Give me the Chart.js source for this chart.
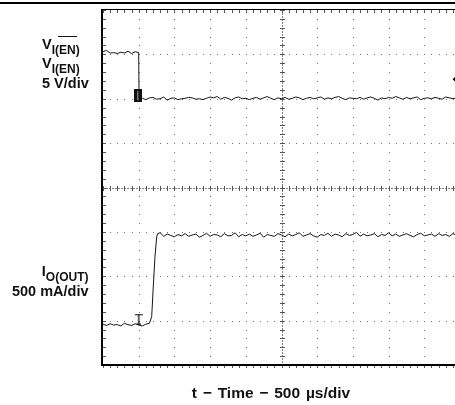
<!DOCTYPE html>
<html><head><meta charset="utf-8">
<script src="https://cdn.jsdelivr.net/npm/chart.js@4"></script>
<style>
html,body{margin:0;padding:0;background:#fff;overflow:hidden;width:455px;height:405px;}
#wrap{position:relative;width:480px;height:405px;}
canvas{position:absolute;left:0;top:0;}
.t{position:absolute;font-family:'Liberation Sans',Arial,sans-serif;font-weight:bold;font-size:14.5px;line-height:14.5px;color:#111;white-space:nowrap;}
.t sub{font-size:12px;line-height:14.5px;vertical-align:-5px;}
#rule{position:absolute;left:0;top:2px;width:480px;height:2px;background:#000;}
#ovl{position:absolute;left:58px;top:35.5px;width:19px;height:1.5px;background:#111;}
</style></head><body>
<div id="wrap">
<div id="rule"></div>
<canvas id="c" width="480" height="405"></canvas>
<div class="t" style="left:42px;top:36.7px">V<sub>I(EN)</sub></div>
<div id="ovl"></div>
<div class="t" style="left:42px;top:55.7px">V<sub>I(EN)</sub></div>
<div class="t" style="left:42px;top:75.7px">5 V/div</div>
<div class="t" style="left:0;width:88.5px;text-align:right;top:263.5px">I<sub>O(OUT)</sub></div>
<div class="t" style="left:0;width:88.5px;text-align:right;top:283.5px">500 mA/div</div>
<div class="t" style="left:121px;width:300px;text-align:center;top:386.2px;font-size:15.5px;word-spacing:1.5px">t − Time − 500 µs/div</div>
</div>
<script>
// ---- axis ranges / grid (500 µs/div, 5 V/div, 500 mA/div) ----
const xMajorTicksUs = [0,500,1000,1500,2000,2500,3000,3500,4000,4500,5000];
const yMajorTicksV  = [-30,-25,-20,-15,-10,-5,0,5,10];
const minorPerDiv = 5;
const xCenterUs = 2500;
const yCenterV = -10;
const ch2RangeMilliAmps = [-450, 3550];

// ---- Channel 1: V_I(EN), volts ----
const ch1TimeUs = [0,50,100,150,200,250,300,350,400,450,500,505,
 550,600,650,700,750,800,850,900,950,1000,
 1050,1100,1150,1200,1250,1300,1350,1400,1450,1500,
 1550,1600,1650,1700,1750,1800,1850,1900,1950,2000,
 2050,2100,2150,2200,2250,2300,2350,2400,2450,2500,
 2550,2600,2650,2700,2750,2800,2850,2900,2950,3000,
 3050,3100,3150,3200,3250,3300,3350,3400,3450,3500,
 3550,3600,3650,3700,3750,3800,3850,3900,3950,4000,
 4050,4100,4150,4200,4250,4300,4350,4400,4450,4500,
 4550,4600,4650,4700,4750,4800,4850,4900,4950,5000];
const ch1Volts = [5.3,5.45,5.15,5.2,5.1,5.25,5.15,5.35,5.1,5.3,5.2,0.1,
 0.05,-0.1,0.1,0.15,-0.05,0.0,0.2,-0.15,0.05,0.1,
 -0.1,0.0,0.05,0.15,0.1,-0.05,0.0,-0.1,0.05,0.2,
 0.1,0.25,-0.05,0.15,0.05,-0.15,0.1,0.2,0.0,0.05,
 -0.1,0.05,0.15,-0.05,0.1,0.25,0.05,-0.1,0.1,0.0,
 0.15,-0.05,0.05,0.2,0.1,-0.1,0.05,0.15,0.0,0.1,
 0.2,-0.05,0.1,0.0,0.15,0.25,0.05,-0.1,0.1,0.05,
 0.0,0.15,-0.05,0.1,0.2,0.05,-0.15,0.1,0.0,0.15,
 0.05,0.25,0.1,-0.05,0.15,0.0,0.1,0.2,-0.1,0.05,
 0.1,0.0,0.15,0.05,-0.05,0.2,0.1,0.0,0.1,0.05];

// ---- Channel 2: I_O(OUT), mA ----
const ch2TimeUs = [0,50,100,150,200,250,300,350,400,450,500,550,600,650,
 682,704,728,752,765,
 800,850,900,950,1000,
 1050,1100,1150,1200,1250,1300,1350,1400,1450,1500,
 1550,1600,1650,1700,1750,1800,1850,1900,1950,2000,
 2050,2100,2150,2200,2250,2300,2350,2400,2450,2500,
 2550,2600,2650,2700,2750,2800,2850,2900,2950,3000,
 3050,3100,3150,3200,3250,3300,3350,3400,3450,3500,
 3550,3600,3650,3700,3750,3800,3850,3900,3950,4000,
 4050,4100,4150,4200,4250,4300,4350,4400,4450,4500,
 4550,4600,4650,4700,4750,4800,4850,4900,4950,5000];
const ch2MilliAmps = [10,-5,15,0,5,-10,20,5,-5,15,0,-10,10,20,
 95,430,770,995,1030,
 1040,1000,1025,1010,995,
 1020,1005,1030,1000,1015,1025,990,1010,1035,1000,
 1020,1015,995,1030,1005,1010,1040,995,1020,1005,
 1025,1000,1015,1035,990,1020,1010,1000,1030,1015,
 995,1025,1005,1020,1040,1000,1015,1030,1005,990,
 1020,1010,1035,1000,1025,1015,995,1030,1010,1020,
 1045,1000,1025,1005,1015,1030,995,1020,1010,1040,
 1005,1025,1000,1015,1030,1010,995,1020,1035,1005,
 1015,1025,1000,1030,1010,1020,1000,1030,1015,1025];

// ---- scope markers ----
const ch1GroundMarker = {timeUs: 495, volts: 0.35};
const triggerMarker = {timeUs: 500, milliAmps: 68};
const triggerLevelMarker = {timeUs: 4960, volts: 2.2};

function xy(xs, ys){ return xs.map((x,i)=>({x:x, y:ys[i]})); }

function mkCanvas(w,h,draw){ const c=document.createElement('canvas'); c.width=w; c.height=h; draw(c.getContext('2d')); return c; }
const boxStyle = mkCanvas(8,13,g=>{ g.fillStyle='#111'; g.fillRect(0,0,8,13); g.fillStyle='#bbb'; g.fillRect(3,2,1,9); });
const tStyle = mkCanvas(8,11,g=>{ g.fillStyle='#222'; g.fillRect(0,0,8,1.5); g.fillRect(3.3,0,1.4,11); g.fillRect(2,9.8,4,1.2); });

const scopeGrid = {
  id:'scopeGrid',
  beforeDatasetsDraw(chart){
    const {ctx, chartArea:a, scales:{x, y}} = chart;
    const xs=[], ys=[];
    for (let i=0;i<xMajorTicksUs.length-1;i++){ const s=(xMajorTicksUs[i+1]-xMajorTicksUs[i])/minorPerDiv; for(let k=0;k<minorPerDiv;k++) xs.push(Math.round(x.getPixelForValue(xMajorTicksUs[i]+k*s))); }
    xs.push(Math.round(x.getPixelForValue(xMajorTicksUs[xMajorTicksUs.length-1])));
    for (let i=0;i<yMajorTicksV.length-1;i++){ const s=(yMajorTicksV[i+1]-yMajorTicksV[i])/minorPerDiv; for(let k=0;k<minorPerDiv;k++) ys.push(Math.round(y.getPixelForValue(yMajorTicksV[i]+k*s))); }
    ys.push(Math.round(y.getPixelForValue(yMajorTicksV[yMajorTicksV.length-1])));
    const cx = Math.round(x.getPixelForValue(xCenterUs)), cy = Math.round(y.getPixelForValue(yCenterV));
    ctx.save();
    ctx.fillStyle='#707070';
    yMajorTicksV.slice(1,-1).forEach(v=>{ if(v===yCenterV) return; const py=Math.round(y.getPixelForValue(v)); xs.forEach(px=>ctx.fillRect(px,py,1,1)); });
    xMajorTicksUs.slice(1,-1).forEach(v=>{ if(v===xCenterUs) return; const px=Math.round(x.getPixelForValue(v)); ys.forEach(py=>ctx.fillRect(px,py,1,1)); });
    // center cross with ticks
    ctx.fillStyle='#808080';
    for(let py=Math.round(a.top);py<a.bottom;py+=3) ctx.fillRect(cx,py,1,2);
    for(let px=Math.round(a.left);px<a.right;px+=3) ctx.fillRect(px,cy,2,1);
    ctx.fillStyle='#555';
    ys.forEach(py=>ctx.fillRect(cx-2,py,5,1));
    xs.forEach(px=>ctx.fillRect(px,cy-2,1,5));
    // border ticks
    ys.forEach(py=>ctx.fillRect(Math.round(a.left),py,3,1));
    xs.forEach(px=>{ ctx.fillRect(px,Math.round(a.top),1,3); ctx.fillRect(px,Math.round(a.bottom)+1,1,2); });
    // borders
    ctx.fillStyle='#000';
    ctx.fillRect(Math.round(a.left)-2, Math.round(a.top)-1, 2, Math.round(a.bottom-a.top)+2);
    ctx.fillRect(Math.round(a.left)-2, Math.round(a.top)-1, Math.round(a.right-a.left)+4, 1);
    ctx.fillRect(Math.round(a.left)-2, Math.round(a.bottom)-1, Math.round(a.right-a.left)+4, 2);
    ctx.restore();
  }
};

new Chart(document.getElementById('c'), {
  type:'scatter',
  data:{ datasets:[
    {data:xy(ch1TimeUs,ch1Volts), yAxisID:'y', showLine:true, borderColor:'#151515', borderWidth:1, pointRadius:0, tension:0},
    {data:xy(ch2TimeUs,ch2MilliAmps), yAxisID:'y2', showLine:true, borderColor:'#151515', borderWidth:1, pointRadius:0, tension:0},
    {data:[{x:ch1GroundMarker.timeUs,y:ch1GroundMarker.volts}], yAxisID:'y', pointStyle:boxStyle, pointRadius:6},
    {data:[{x:triggerMarker.timeUs,y:triggerMarker.milliAmps}], yAxisID:'y2', pointStyle:tStyle, pointRadius:6},
    {data:[{x:triggerLevelMarker.timeUs,y:triggerLevelMarker.volts}], yAxisID:'y', pointStyle:'rectRot', pointRadius:4.5, backgroundColor:'#000', borderColor:'#000', borderWidth:0}
  ]},
  options:{
    responsive:false, devicePixelRatio:1, animation:false,
    layout:{padding:{left:103,right:20,top:10,bottom:40}},
    plugins:{legend:{display:false}, tooltip:{enabled:false}},
    scales:{
      x:{type:'linear', min:xMajorTicksUs[0], max:xMajorTicksUs[xMajorTicksUs.length-1], display:false},
      y:{type:'linear', min:yMajorTicksV[0], max:yMajorTicksV[yMajorTicksV.length-1], display:false},
      y2:{type:'linear', min:ch2RangeMilliAmps[0], max:ch2RangeMilliAmps[1], display:false}
    }
  },
  plugins:[scopeGrid]
});
</script>
</body></html>
